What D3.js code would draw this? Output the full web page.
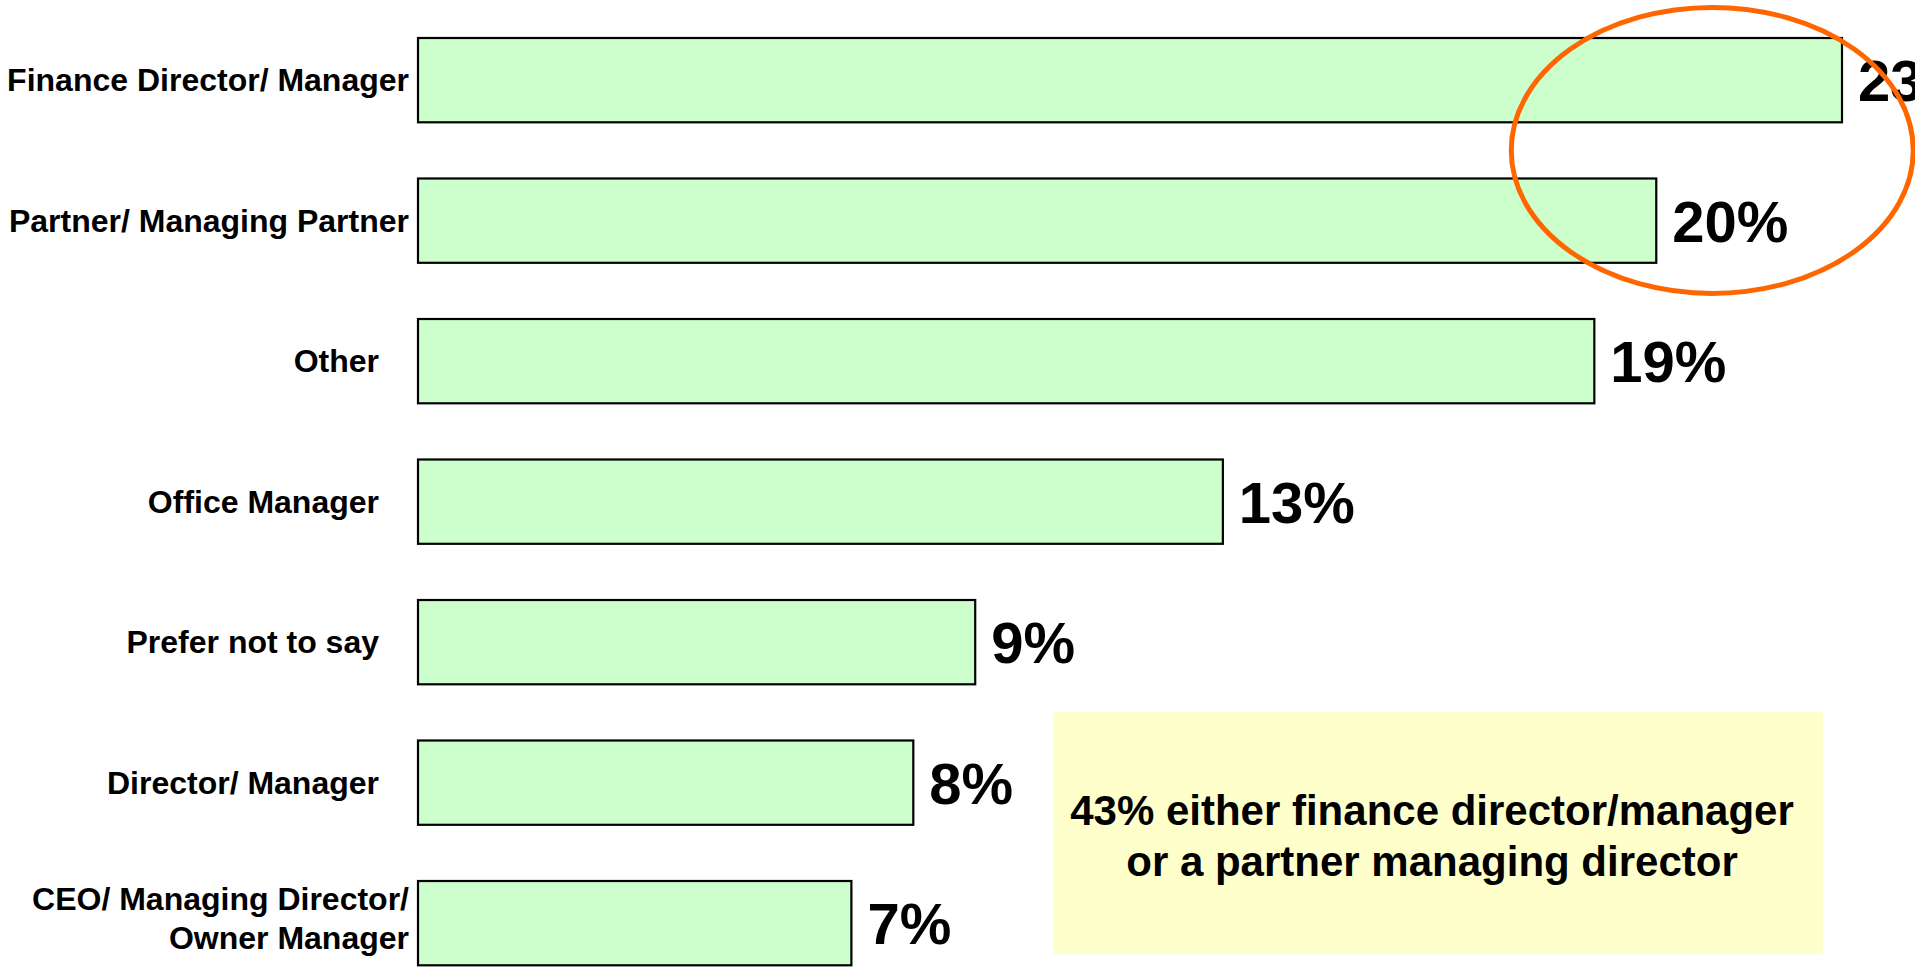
<!DOCTYPE html>
<html>
<head>
<meta charset="utf-8">
<script src="https://cdn.jsdelivr.net/npm/d3@7"></script>
<style>
  html, body { margin: 0; padding: 0; background: #ffffff; overflow: hidden; }
  svg { display: block; }
</style>
</head>
<body>
<script>
const categories = [
  "Finance Director/ Manager",
  "Partner/ Managing Partner",
  "Other",
  "Office Manager",
  "Prefer not to say",
  "Director/ Manager",
  "CEO/ Managing Director/\nOwner Manager"
];
const values = [23, 20, 19, 13, 9, 8, 7];
const valueLabels = ["23%", "20%", "19%", "13%", "9%", "8%", "7%"];
const noteLines = ["43% either finance director/manager", "or a partner managing director"];
const highlighted = [0, 1];

const W = 1915, H = 971;
const svg = d3.select("body").append("svg").attr("width", W).attr("height", H);

const x = d3.scaleLinear().domain([0, 23]).range([418, 1842]);
const y = d3.scaleBand().domain(categories).range([38, 965.3]).paddingInner(0.4).paddingOuter(0);
const bw = y.bandwidth();
const font = "'Liberation Sans', Arial, sans-serif";

// bars
svg.selectAll("rect.bar").data(categories).enter().append("rect")
  .attr("class", "bar")
  .attr("x", x(0))
  .attr("y", d => y(d))
  .attr("width", (d, i) => x(values[i]) - x(0))
  .attr("height", bw)
  .attr("fill", "#CCFFCC")
  .attr("stroke", "#000")
  .attr("stroke-width", 2.2);

// category labels
categories.forEach((c, i) => {
  const lines = c.split("\n");
  const lh = 39;
  const cy = y(c) + bw / 2 - (lines.length > 1 ? 5 : 0);
  const t = svg.append("text")
    .attr("font-family", font).attr("font-weight", "bold").attr("font-size", 32)
    .attr("fill", "#000").attr("text-anchor", "end");
  lines.forEach((l, j) => {
    t.append("tspan").attr("x", 0)
      .attr("y", cy + (j - (lines.length - 1) / 2) * lh)
      .attr("dy", "0.35em").text(l);
  });
  let maxW = 0;
  t.selectAll("tspan").each(function () { maxW = Math.max(maxW, this.getComputedTextLength()); });
  const xe = maxW > 360 ? 409 : 379;
  t.selectAll("tspan").attr("x", xe);
});

// value labels
svg.selectAll("text.val").data(categories).enter().append("text")
  .attr("class", "val")
  .attr("x", (d, i) => x(values[i]) + 16)
  .attr("y", d => y(d) + bw / 2)
  .attr("dy", "0.36em")
  .attr("font-family", font).attr("font-weight", "bold").attr("font-size", 58)
  .attr("fill", "#000")
  .text((d, i) => valueLabels[i]);

// highlight ellipse around top two
const top0 = y(categories[highlighted[0]]);
const bot1 = y(categories[highlighted[1]]) + bw;
svg.append("ellipse")
  .attr("cx", x(values[highlighted[1]]) + 56)
  .attr("cy", (top0 + bot1) / 2)
  .attr("rx", 201)
  .attr("ry", 143)
  .attr("fill", "none")
  .attr("stroke", "#FF6600")
  .attr("stroke-width", 5);

// note box
const bx0 = 1053, bx1 = 1823, by0 = 712, by1 = 954;
svg.append("rect")
  .attr("x", bx0).attr("y", by0).attr("width", bx1 - bx0).attr("height", by1 - by0)
  .attr("fill", "#FFFFCC");
const nt = svg.append("text")
  .attr("font-family", font).attr("font-weight", "bold").attr("font-size", 42)
  .attr("fill", "#000").attr("text-anchor", "middle");
noteLines.forEach((l, j) => {
  nt.append("tspan").attr("x", (bx0 + bx1) / 2 - 6)
    .attr("y", 810 + j * 51).attr("dy", "0.35em").text(l);
});
</script>
</body>
</html>
